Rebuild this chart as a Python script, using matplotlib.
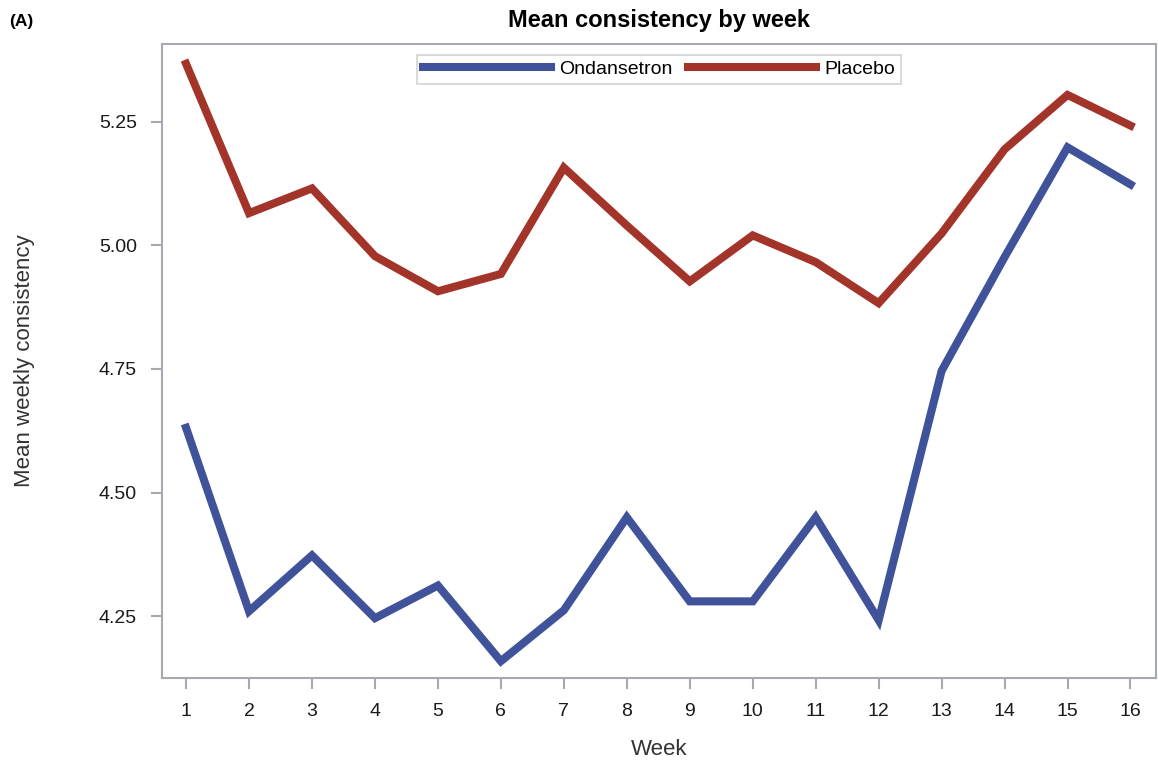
import matplotlib
matplotlib.use("Agg")
from matplotlib import pyplot as plt

weeks = list(range(1, 17))
ondansetron = [4.631, 4.260, 4.373, 4.246, 4.312, 4.159, 4.262, 4.450,
               4.280, 4.280, 4.450, 4.242, 4.746, 4.976, 5.198, 5.123]
placebo = [5.367, 5.065, 5.115, 4.978, 4.907, 4.942, 5.157, 5.040,
           4.927, 5.020, 4.966, 4.883, 5.024, 5.194, 5.304, 5.242]
yticks = [4.25, 4.50, 4.75, 5.00, 5.25]

plt.rcParams['font.family'] = ['Liberation Sans', 'DejaVu Sans']

fig = plt.figure(figsize=(11.58, 7.65), dpi=100)
ax = fig.add_axes([0.140, 0.1137, 0.858, 0.8288])

ax.plot(weeks, ondansetron, color="#3F529A", lw=5.8, label="Ondansetron",
        solid_joinstyle="miter")
ax.plot(weeks, placebo, color="#A3342A", lw=5.8, label="Placebo",
        solid_joinstyle="miter")

ax.set_xlim(0.62, 16.4)
ax.set_ylim(4.125, 5.407)
ax.set_xticks(weeks)
ax.set_yticks(yticks)
ax.set_yticklabels(["%.2f" % v for v in yticks])

for s in ax.spines.values():
    s.set_color("#A6AAB0")
    s.set_linewidth(1.5)
ax.tick_params(colors="#A6AAB0", labelcolor="#1a1a1a", labelsize=14,
               length=8, width=1.5, pad=10)

ax.set_xlabel("Week", fontsize=16, color="#333333", labelpad=14)
ax.set_ylabel("Mean weekly consistency", fontsize=16, color="#333333",
              labelpad=46)
ax.set_title("Mean consistency by week", fontsize=17, fontweight="bold",
             pad=12)
fig.text(0.008, 0.966, "(A)", fontsize=12.5, fontweight="bold")

leg = ax.legend(loc="upper center", ncol=2, fontsize=14, frameon=True,
                fancybox=False, handlelength=6.6, borderaxespad=0.55,
                columnspacing=0.8, handletextpad=0.4, borderpad=0.3)
leg.get_frame().set_edgecolor("#C8C8C8")
leg.get_frame().set_linewidth(1.2)

fig.savefig("out.png", dpi=100)
